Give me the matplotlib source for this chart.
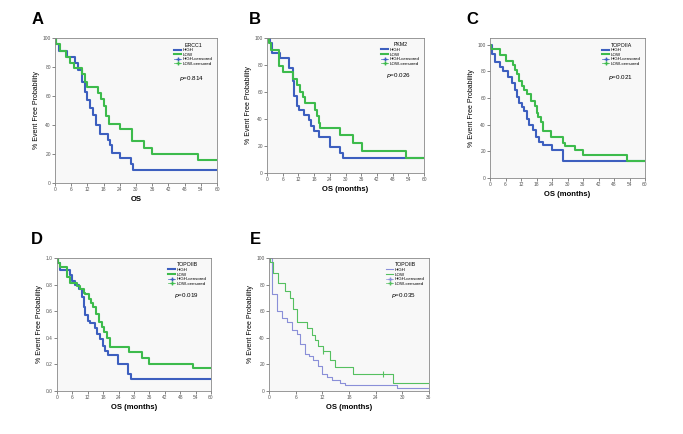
import matplotlib
matplotlib.use("Agg")
import matplotlib.pyplot as plt
from matplotlib.lines import Line2D

plt.rcParams['font.family'] = ['Liberation Sans', 'DejaVu Sans']

BLUE = '#3d5fbf'
GREEN = '#3dbb4c'

# Panel A - ERCC1
a_high_t = [0, 0.5, 1.5, 4.5, 7.5, 8.5, 10, 11, 12, 13, 14, 15, 16.5, 19.5, 20.5, 21, 24, 28, 29]
a_high_s = [100, 96, 91, 87, 83, 78, 70, 63, 57, 52, 47, 40, 34, 30, 26, 21, 17, 13, 9]
a_low_t = [0, 0.5, 2, 4, 5.5, 7, 10, 11, 12, 16, 17, 18, 19, 20, 24, 28.5, 33, 36, 53]
a_low_s = [100, 96, 91, 87, 83, 79, 75, 70, 66, 62, 58, 53, 46, 41, 37, 29, 24, 20, 16]

# Panel B - PKM2
b_high_t = [0, 1, 1.9, 4.8, 8.3, 9.9, 10.5, 11.4, 12.4, 14, 15.9, 16.8, 17.8, 19.7, 24.1, 28, 29.2]
b_high_s = [100, 96, 89, 85, 78, 68, 57, 50, 47, 43, 39, 35, 31, 27, 19, 15, 11]
b_low_t = [0, 0.6, 1.5, 4.4, 6, 9.9, 11.4, 12.7, 13.7, 14.6, 18.4, 19, 19.7, 20.3, 28, 33, 36.2, 53.1]
b_low_s = [100, 96, 91, 79, 75, 70, 65, 60, 56, 52, 47, 42, 37, 33, 28, 22, 16, 11]

# Panel C - TOPOIIA
c_high_t = [0, 0.9, 1.9, 3.9, 5.2, 7.1, 8.4, 9.7, 10.3, 11.4, 12.3, 13.3, 14.2, 15.2, 16.8, 17.8, 19.1, 20.4, 23.9, 28.1]
c_high_s = [100, 93, 87, 83, 80, 76, 71, 66, 61, 56, 53, 50, 44, 40, 36, 31, 27, 25, 21, 13]
c_low_t = [0, 0.3, 3.9, 6.2, 8.8, 9.7, 10.6, 11.4, 12.3, 13.2, 14.2, 15.9, 17.4, 18.1, 18.7, 19.6, 20.6, 23.6, 28.1, 29, 32.9, 36.1, 52.9]
c_low_s = [100, 97, 92, 88, 85, 81, 78, 73, 69, 66, 63, 58, 54, 49, 46, 42, 35, 31, 26, 24, 21, 17, 13]

# Panel D - TOPOIIB (OS, 60 months)
d_high_t = [0, 0.5, 1.3, 4.9, 5.8, 7.1, 8.4, 9.7, 10.4, 11, 11.9, 13, 14.9, 15.5, 16.8, 17.9, 18.8, 19.7, 23.6, 27.8, 28.8]
d_high_s = [1.0, 0.96, 0.91, 0.87, 0.83, 0.80, 0.77, 0.71, 0.63, 0.57, 0.53, 0.51, 0.47, 0.43, 0.39, 0.34, 0.30, 0.27, 0.205, 0.13, 0.09]
d_low_t = [0, 0.3, 1.0, 3.9, 4.9, 7.8, 9.1, 10.4, 11, 12.3, 13.2, 14.2, 15.3, 16.2, 17.5, 18.4, 19.4, 20.5, 28.1, 33, 36, 53.1]
d_low_s = [1.0, 0.96, 0.93, 0.86, 0.81, 0.79, 0.77, 0.74, 0.73, 0.69, 0.66, 0.63, 0.58, 0.52, 0.48, 0.44, 0.40, 0.33, 0.29, 0.25, 0.205, 0.17]

# Panel E - TOPOIIB (36 months)
e_high_t = [0, 0.6, 1.7, 2.9, 4, 5.1, 6.2, 7, 8, 8.9, 10, 11.1, 11.9, 13, 14.1, 16, 17.1, 28.7]
e_high_s = [100, 73, 60, 55, 52, 46, 43, 35, 28, 26, 23, 19, 13, 10.5, 8.5, 6.3, 4.3, 2.3]
e_low_t = [0, 0.2, 1, 2.1, 3.6, 4.7, 5.5, 6.2, 8.5, 9.6, 10.4, 11.1, 12.1, 13.7, 14.9, 19, 28]
e_low_s = [100, 97, 89, 81, 75, 70, 62, 52, 47, 42, 38, 34, 30, 23, 18, 13, 6.3]
e_low_cens_t = [12.1, 25.7]
e_low_cens_s = [30, 13]

W, H = 683, 434
fig = plt.figure(figsize=(W / 100, H / 100), dpi=100)


def add_ax(left, right, top, bottom):
    return fig.add_axes([left / W, 1 - bottom / H, (right - left) / W, (bottom - top) / H])


def km(ax, t, s, color, xmax, lw):
    ax.step(list(t) + [xmax], list(s) + [s[-1]], where='post', color=color, lw=lw)


def draw_panel(ax, letter, letter_xy, gene, pval, high, low, xmax, xstep, ymax, yticks, yfmt,
               xlabel, lw=1.5, cens=None):
    ax.set_facecolor('#f8f8f8')
    hc = BLUE if lw > 1 else '#8a8fd8'
    lc = GREEN if lw > 1 else '#55c060'
    km(ax, high[0], high[1], hc, xmax, lw)
    km(ax, low[0], low[1], lc, xmax, lw)
    if cens is not None:
        ax.plot(cens[0], cens[1], '|', color=lc, ms=4, mew=0.8)
    ax.set_xlim(0, xmax)
    ax.set_ylim(0, ymax)
    ax.set_xticks(range(0, xmax + 1, xstep))
    ax.set_yticks(yticks)
    ax.set_yticklabels([yfmt.format(v) for v in yticks])
    ax.tick_params(labelsize=3.5, length=2, width=0.5, pad=1, colors='#555555')
    for sp in ax.spines.values():
        sp.set_color('#888888')
        sp.set_linewidth(0.6)
    ax.set_xlabel(xlabel, fontsize=5.5, fontweight='bold', labelpad=3)
    ax.set_ylabel('% Event Free Probability', fontsize=5, labelpad=2)
    ax.text(0.84, 0.71, '$p$=' + pval, transform=ax.transAxes, fontsize=4.5, ha='center')
    handles = [Line2D([], [], color=hc, lw=lw),
               Line2D([], [], color=lc, lw=lw),
               Line2D([], [], color=hc, lw=0.5, marker='+', ms=3),
               Line2D([], [], color=lc, lw=0.5, marker='+', ms=3)]
    ax.legend(handles, ['HIGH', 'LOW', 'HIGH-censored', 'LOW-censored'],
              title=gene, loc='upper right', bbox_to_anchor=(0.99, 0.99),
              fontsize=3.2, title_fontsize=3.8, frameon=False,
              handlelength=1.6, handletextpad=0.3, labelspacing=0.1,
              borderpad=0.2)
    fig.text(letter_xy[0] / W, 1 - letter_xy[1] / H, letter, fontsize=12,
             fontweight='bold', ha='center', va='center')


axA = add_ax(55, 217, 38, 183)
draw_panel(axA, 'A', (38, 19), 'ERCC1', '0.814', (a_high_t, a_high_s), (a_low_t, a_low_s),
           60, 6, 100, [0, 20, 40, 60, 80, 100], '{}', 'OS')

axB = add_ax(267, 424, 38, 173)
draw_panel(axB, 'B', (255, 19), 'PKM2', '0.026', (b_high_t, b_high_s), (b_low_t, b_low_s),
           60, 6, 100, [0, 20, 40, 60, 80, 100], '{}', 'OS (months)')

axC = add_ax(490, 645, 38, 178)
draw_panel(axC, 'C', (472, 19), 'TOPOIIA', '0.021', (c_high_t, c_high_s), (c_low_t, c_low_s),
           60, 6, 105, [0, 20, 40, 60, 80, 100], '{}', 'OS (months)')

axD = add_ax(57, 211, 258, 391)
draw_panel(axD, 'D', (37, 239), 'TOPOIIB', '0.019', (d_high_t, d_high_s), (d_low_t, d_low_s),
           60, 6, 1.0, [0, 0.2, 0.4, 0.6, 0.8, 1.0], '{:.1f}', 'OS (months)')

axE = add_ax(269, 429, 258, 391)
draw_panel(axE, 'E', (255, 239), 'TOPOIIB', '0.035', (e_high_t, e_high_s), (e_low_t, e_low_s),
           36, 6, 100, [0, 20, 40, 60, 80, 100], '{}', 'OS (months)',
           lw=0.8, cens=(e_low_cens_t, e_low_cens_s))

fig.savefig('out.png', dpi=100)
